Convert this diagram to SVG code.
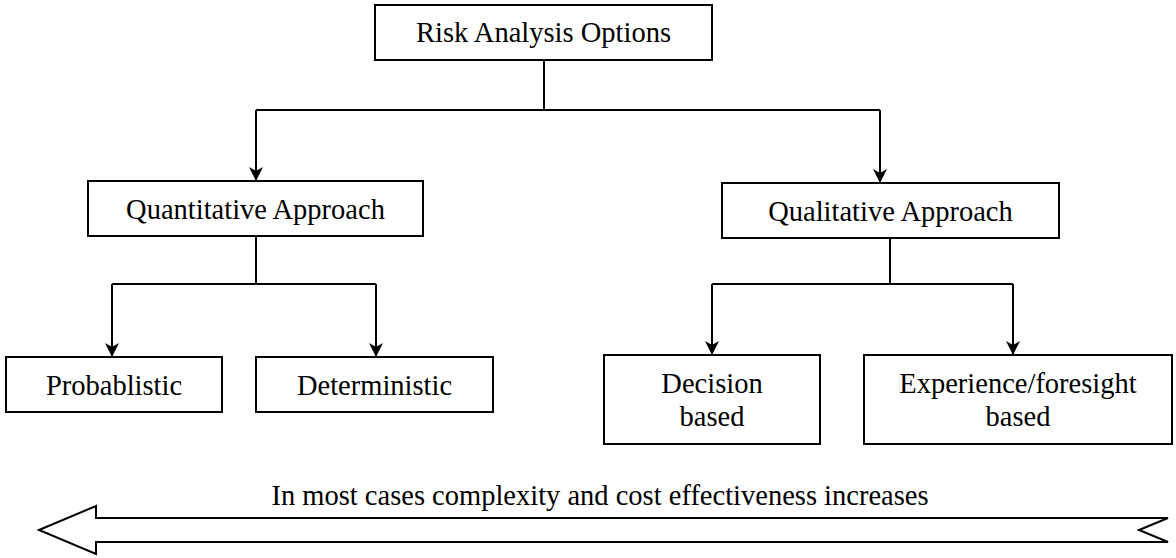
<svg xmlns="http://www.w3.org/2000/svg" width="1176" height="558" viewBox="0 0 1176 558">
  <style>
    .box { fill: #ffffff; stroke: #000000; stroke-width: 2; }
    .lbl { font-family: "Liberation Serif", "Times New Roman", serif; font-size: 28.5px; fill: #000000; text-anchor: middle; }
    .wire { fill: none; stroke: #000000; stroke-width: 2; }
    .arrow { marker-end: url(#head); }
  </style>
  <defs>
    <marker id="head" viewBox="0 0 14 14" refX="14" refY="7" markerWidth="14" markerHeight="14" markerUnits="userSpaceOnUse" orient="auto">
      <path d="M0,0 L14,7 L0,14 L4,7 Z" fill="#000000"/>
    </marker>
  </defs>

  <rect width="1176" height="558" fill="#ffffff"/>

  <!-- connectors -->
  <g id="connectors">
    <path class="wire" d="M544,60 V110"/>
    <path class="wire" d="M256,110 H880"/>
    <path class="wire arrow" d="M256,110 V181"/>
    <path class="wire arrow" d="M880,110 V183"/>

    <path class="wire" d="M256,236 V284"/>
    <path class="wire" d="M112,284 H376"/>
    <path class="wire arrow" d="M112,284 V357"/>
    <path class="wire arrow" d="M376,284 V357"/>

    <path class="wire" d="M890,238 V284"/>
    <path class="wire" d="M712,284 H1013"/>
    <path class="wire arrow" d="M712,284 V355"/>
    <path class="wire arrow" d="M1013,284 V355"/>
  </g>

  <!-- nodes -->
  <g id="risk-analysis-options">
    <rect class="box" x="375" y="5" width="337" height="55"/>
    <text class="lbl" x="543.5" y="42">Risk Analysis Options</text>
  </g>

  <g id="quantitative-approach">
    <rect class="box" x="88" y="181" width="335" height="55"/>
    <text class="lbl" x="255.5" y="219">Quantitative Approach</text>
  </g>

  <g id="qualitative-approach">
    <rect class="box" x="722" y="183" width="337" height="55"/>
    <text class="lbl" x="890.5" y="221">Qualitative Approach</text>
  </g>

  <g id="probablistic">
    <rect class="box" x="6" y="357" width="216" height="55"/>
    <text class="lbl" x="114" y="395">Probablistic</text>
  </g>

  <g id="deterministic">
    <rect class="box" x="256" y="357" width="237" height="55"/>
    <text class="lbl" x="374.5" y="395">Deterministic</text>
  </g>

  <g id="decision-based">
    <rect class="box" x="604" y="355" width="216" height="89"/>
    <text class="lbl" x="712" y="393">Decision</text>
    <text class="lbl" x="712" y="426">based</text>
  </g>

  <g id="experience-foresight-based">
    <rect class="box" x="864" y="355" width="308" height="89"/>
    <text class="lbl" x="1018" y="393">Experience/foresight</text>
    <text class="lbl" x="1018" y="426">based</text>
  </g>

  <!-- trend arrow along the bottom -->
  <g id="trend">
    <text class="lbl" x="600" y="505">In most cases complexity and cost effectiveness increases</text>
    <path class="box" d="M39,530 L96,506 L96,518 L1168,518 L1139,530 L1168,542 L96,542 L96,554 Z"/>
  </g>
</svg>
